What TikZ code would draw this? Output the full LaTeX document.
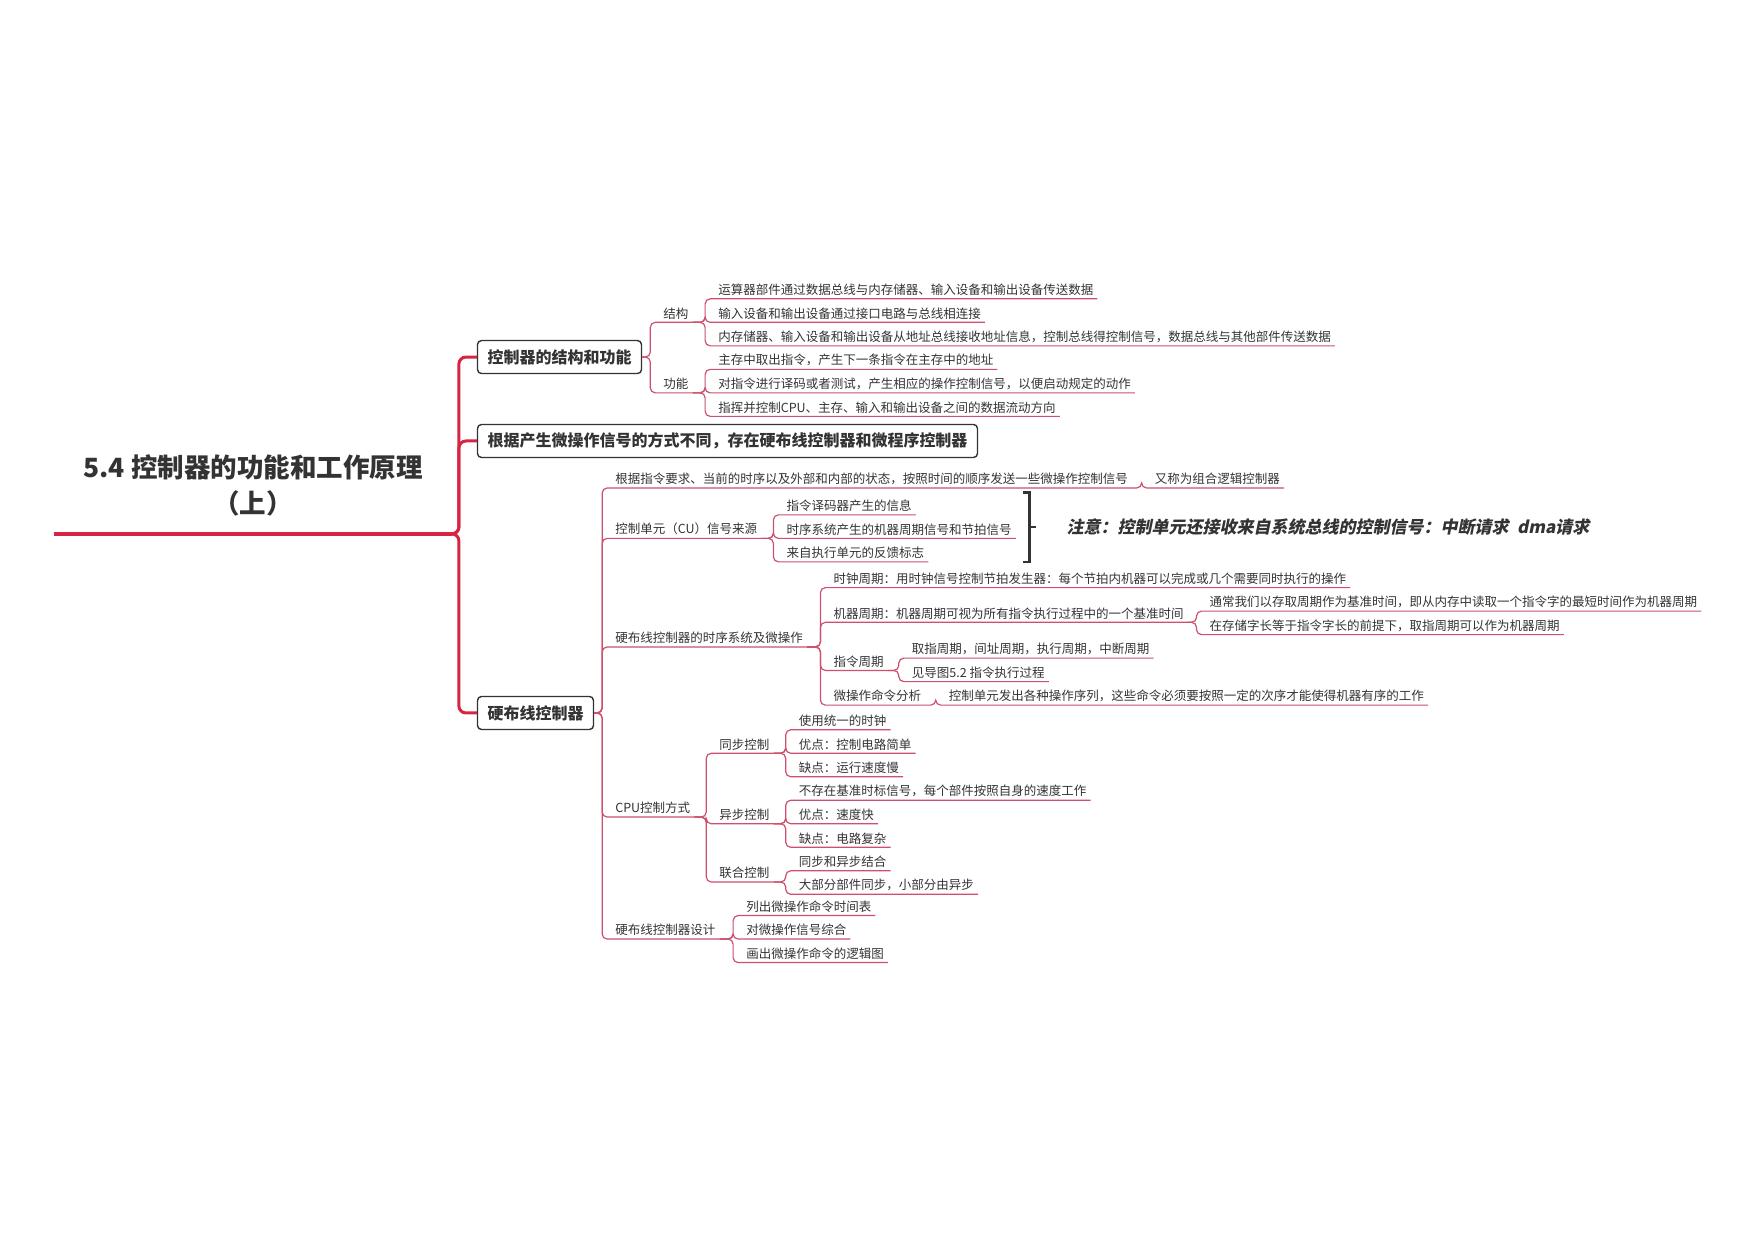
\documentclass[tikz,border=0pt]{standalone}
\usepackage{fontspec}
\setmainfont{Noto Sans CJK SC}
\newfontfamily\notefont[FakeSlant=0.2]{Noto Sans CJK SC}
\usetikzlibrary{calc}
\definecolor{zhuhong}{RGB}{214,36,66}
\definecolor{xianse}{RGB}{205,80,110}
\definecolor{wenzi}{RGB}{51,51,51}
\tikzset{
  topic/.style={anchor=south west, inner xsep=4pt, inner ysep=3pt, text=wenzi, font=\fontsize{12.5}{15}\selectfont},
  box/.style={anchor=west, draw=wenzi, line width=1.4pt, rounded corners=4pt, fill=white, inner xsep=10pt, minimum height=33pt, text=wenzi, font=\fontsize{16}{19}\selectfont\bfseries},
  link/.style={draw=xianse, line width=1.2pt, rounded corners=5pt},
  trunk/.style={draw=zhuhong, line width=3pt, rounded corners=7pt},
}
\begin{document}
\begin{tikzpicture}[x=1.1193pt, y=-1.1193pt]
\useasboundingbox (0,0) rectangle (1568,1108);
% 中心主题
\node[text=wenzi, font=\fontsize{26.5}{36}\selectfont\bfseries, align=center] (root) at (226,434) {5.4 控制器的功能和工作原理\\（上）};
\coordinate (rootL) at (48,477);
\coordinate (rootR) at (404,477);
\draw[zhuhong, line width=4pt] (rootL) -- (rootR);

% 一级分支
\node[box] (b1) at (426,319) {控制器的结构和功能};
\node[box] (b2) at (426,394) {根据产生微操作信号的方式不同，存在硬布线控制器和微程序控制器};
\node[box] (b3) at (426,637) {硬布线控制器};
\foreach \b in {b1,b2,b3}
  \draw[trunk] (rootR) -| ($(\b.west)+(-16,0)$) -- (\b.west);

% 控制器的结构和功能
\node[topic] (jg) at (589,288) {结构};
\node[topic] (gn) at (589,351) {功能};
\node[topic] (jg1) at (638,267) {运算器部件通过数据总线与内存储器、输入设备和输出设备传送数据};
\node[topic] (jg2) at (638,288) {输入设备和输出设备通过接口电路与总线相连接};
\node[topic] (jg3) at (638,309) {内存储器、输入设备和输出设备从地址总线接收地址信息，控制总线得控制信号，数据总线与其他部件传送数据};
\node[topic] (gn1) at (638,330) {主存中取出指令，产生下一条指令在主存中的地址};
\node[topic] (gn2) at (638,351) {对指令进行译码或者测试，产生相应的操作控制信号，以便启动规定的动作};
\node[topic] (gn3) at (638,372) {指挥并控制CPU、主存、输入和输出设备之间的数据流动方向};

% 硬布线控制器
\node[topic] (h1) at (546,436) {根据指令要求、当前的时序以及外部和内部的状态，按照时间的顺序发送一些微操作控制信号};
\node[topic] (h1a) at (1028,436) {又称为组合逻辑控制器};
\node[topic] (h2) at (546,481) {控制单元（CU）信号来源};
\node[topic] (h21) at (699,460) {指令译码器产生的信息};
\node[topic] (h22) at (699,481) {时序系统产生的机器周期信号和节拍信号};
\node[topic] (h23) at (699,502) {来自执行单元的反馈标志};
\node[topic] (h3) at (546,578) {硬布线控制器的时序系统及微操作};
\node[topic] (h31) at (741,525) {时钟周期：用时钟信号控制节拍发生器：每个节拍内机器可以完成或几个需要同时执行的操作};
\node[topic] (h32) at (741,556) {机器周期：机器周期可视为所有指令执行过程中的一个基准时间};
\node[topic] (h321) at (1077,546) {通常我们以存取周期作为基准时间，即从内存中读取一个指令字的最短时间作为机器周期};
\node[topic] (h322) at (1077,567) {在存储字长等于指令字长的前提下，取指周期可以作为机器周期};
\node[topic] (h33) at (741,599) {指令周期};
\node[topic] (h331) at (811,588) {取指周期，间址周期，执行周期，中断周期};
\node[topic] (h332) at (811,609) {见导图5.2 指令执行过程};
\node[topic] (h34) at (741,630) {微操作命令分析};
\node[topic] (h341) at (844,630) {控制单元发出各种操作序列，这些命令必须要按照一定的次序才能使得机器有序的工作};
\node[topic] (h4) at (546,730) {CPU控制方式};
\node[topic] (h41) at (639,673) {同步控制};
\node[topic] (h411) at (710,652) {使用统一的时钟};
\node[topic] (h412) at (710,673) {优点：控制电路简单};
\node[topic] (h413) at (710,694) {缺点：运行速度慢};
\node[topic] (h42) at (639,736) {异步控制};
\node[topic] (h421) at (710,715) {不存在基准时标信号，每个部件按照自身的速度工作};
\node[topic] (h422) at (710,736) {优点：速度快};
\node[topic] (h423) at (710,757) {缺点：电路复杂};
\node[topic] (h43) at (639,788) {联合控制};
\node[topic] (h431) at (710,778) {同步和异步结合};
\node[topic] (h432) at (710,799) {大部分部件同步，小部分由异步};
\node[topic] (h5) at (546,839) {硬布线控制器设计};
\node[topic] (h51) at (663,818) {列出微操作命令时间表};
\node[topic] (h52) at (663,839) {对微操作信号综合};
\node[topic] (h53) at (663,860) {画出微操作命令的逻辑图};

% 连线
\foreach \p/\c in {b1/jg, b1/gn, b3/h1, b3/h2, b3/h3, b3/h4, b3/h5}
  \draw[link] (\p.east) -| ($(\c.south west)+(-8,0)$) -- (\c.south east);
\foreach \p/\c in {jg/jg1, jg/jg2, jg/jg3, gn/gn1, gn/gn2, gn/gn3,
    h1/h1a, h2/h21, h2/h22, h2/h23, h3/h31, h3/h32, h3/h33, h3/h34,
    h32/h321, h32/h322, h33/h331, h33/h332, h34/h341,
    h4/h41, h4/h42, h4/h43, h41/h411, h41/h412, h41/h413,
    h42/h421, h42/h422, h42/h423, h43/h431, h43/h432,
    h5/h51, h5/h52, h5/h53}
  \draw[link] (\p.south east) -| ($(\c.south west)+(-8,0)$) -- (\c.south east);

% 概要括号与注释
\coordinate (kt) at (914,440);
\coordinate (kb) at (914,502);
\coordinate (km) at (920,471);
\draw[wenzi, line width=2.5pt] (kt) -- ++(6,0) -- ++(0,62) -- (kb);
\draw[wenzi, line width=2.5pt] (km) -- ++(6,0);
\node[anchor=west, inner xsep=2pt, text=wenzi, font=\notefont\fontsize{17}{20}\selectfont\bfseries] (zy) at (951,471) {注意：控制单元还接收来自系统总线的控制信号：中断请求\hspace{0.5em}dma请求};
\end{tikzpicture}
\end{document}
